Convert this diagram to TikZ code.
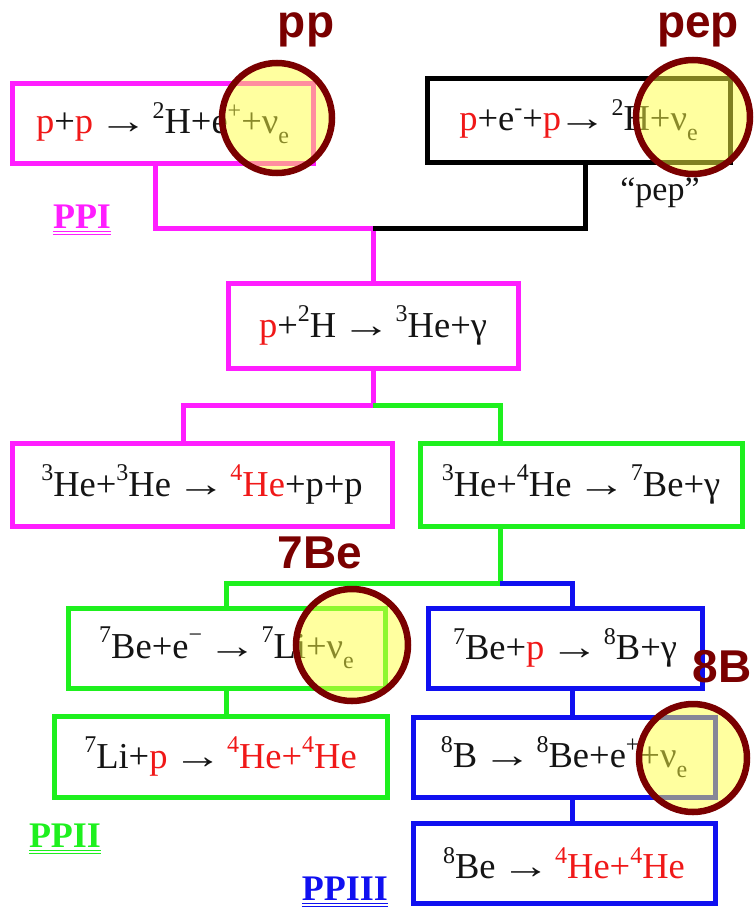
\documentclass[tikz,border=0pt]{standalone}
\usepackage{graphicx}
\usepackage{fontspec}
\setmainfont{Liberation Serif}
\newfontfamily\markfont{Liberation Sans}

\definecolor{chainpp}{HTML}{FF1EFF}
\definecolor{chainbe}{HTML}{1EF01E}
\definecolor{chainb}{HTML}{1010F0}
\definecolor{protonred}{HTML}{F01818}
\definecolor{inkblack}{HTML}{141414}
\definecolor{markred}{HTML}{7A0000}
\definecolor{markfill}{HTML}{FFFF40}

% mass numbers, neutrino flavour index, highlighted particles, reaction arrow
\newcommand\iso[1]{\raisebox{0.42em}{\fontsize{24}{24}\selectfont #1}}
\newcommand\nusub[1]{\raisebox{-0.28em}{\fontsize{24}{24}\selectfont #1}}
\newcommand\rd[1]{\textcolor{protonred}{#1}}
\newcommand\yields{\hspace{-0.1em}\scalebox{1.35}[1]{→}\hspace{-0.12em}}

\begin{document}
\begin{tikzpicture}[x=1pt,y=-1pt,
  box/.style={draw, line width=5pt, inner sep=0pt, outer sep=0pt,
              text=inkblack, font=\fontsize{36.5}{40}\selectfont},
  wire/.style={line width=5pt},
  hl/.style={circle, draw=markred, line width=6.5pt, fill=markfill,
             fill opacity=0.5, inner sep=0pt, minimum size=#1},
  tag/.style={font=\markfont\bfseries\fontsize{46}{46}\selectfont,
              text=markred, anchor=base, inner sep=0pt},
  chain/.style={font=\bfseries\fontsize{36}{36}\selectfont,
                anchor=base, inner sep=0pt},
  ul/.style={line width=1.3pt}
]
\useasboundingbox (0,0) rectangle (753,908);

% reaction boxes
\node[box, draw=chainpp, minimum width=301pt, minimum height=80pt] (b1) at (162.5,123)
  {\rd{p}+\rd{p} \yields{} \iso{2}H+e\iso{+}+ν\nusub{e}};
\node[box, draw=black, minimum width=303pt, minimum height=84pt] (b2) at (578.5,120)
  {\rd{p}+e\iso{-}+\rd{p}\yields{} \iso{2}H+ν\nusub{e}};
\node[box, draw=chainpp, minimum width=290pt, minimum height=85pt] (b3) at (373,325.5)
  {\rd{p}+\iso{2}H \yields{} \iso{3}He+γ};
\node[box, draw=chainpp, minimum width=380pt, minimum height=83pt] (b4) at (202,484.5)
  {\iso{3}He+\iso{3}He \yields{} \rd{\iso{4}He}+p+p};
\node[box, draw=chainbe, minimum width=322pt, minimum height=83pt] (b5) at (581,484.5)
  {\iso{3}He+\iso{4}He \yields{} \iso{7}Be+γ};
\node[box, draw=chainbe, minimum width=317pt, minimum height=80pt] (b6) at (226.5,648)
  {\iso{7}Be+e\iso{−} \yields{} \iso{7}Li+ν\nusub{e}};
\node[box, draw=chainb, minimum width=274pt, minimum height=80pt] (b7) at (565,648)
  {\iso{7}Be+\rd{p} \yields{} \iso{8}B+γ};
\node[box, draw=chainbe, minimum width=333pt, minimum height=81pt] (b8) at (220.5,756.5)
  {\iso{7}Li+\rd{p} \yields{} \rd{\iso{4}He+\iso{4}He}};
\node[box, draw=chainb, minimum width=302pt, minimum height=80pt] (b9) at (564,757)
  {\iso{8}B \yields{} \iso{8}Be+e\iso{+}+ν\nusub{e}};
\node[box, draw=chainb, minimum width=302pt, minimum height=80pt] (b10) at (564,863)
  {\iso{8}Be \yields{} \rd{\iso{4}He+\iso{4}He}};

% branch connectors
\coordinate (j1) at (373,228);
\coordinate (j2) at (373,405);
\coordinate (j3) at (500,583);
\draw[wire, chainpp] ([xshift=-7.5pt]b1.south) |- (j1) -- (b3.north);
\draw[wire, black] ([xshift=6.5pt]b2.south) |- (j1);
\draw[wire, chainpp] (b3.south) -- (j2) -| ([xshift=-19pt]b4.north);
\draw[wire, chainbe] (j2) -| ([xshift=-81pt]b5.north);
\draw[wire, chainbe] ([xshift=-81pt]b5.south) -- (j3) -| (b6.north);
\draw[wire, chainb] (j3) -| ([xshift=7pt]b7.north);
\draw[wire, chainbe] (b6.south) -- (b6.south |- b8.north);
\draw[wire, chainb] ([xshift=7pt]b7.south) -- ([xshift=7pt]b7.south |- b9.north);
\draw[wire, chainb] ([xshift=7pt]b7.south |- b9.south) -- ([xshift=7pt]b7.south |- b10.north);

% chain names
\node[chain, text=chainpp] (ppi) at (82,228) {PPI};
\node[chain, text=chainbe] (ppii) at (65,847) {PPII};
\node[chain, text=chainb] (ppiii) at (345,900) {PPIII};
\foreach \n/\c in {ppi/chainpp, ppii/chainbe, ppiii/chainb}{
  \draw[ul, \c] ([yshift=-3.5pt]\n.base west) -- ([yshift=-3.5pt]\n.base east);
  \draw[ul, \c] ([yshift=-6.5pt]\n.base west) -- ([yshift=-6.5pt]\n.base east);
}
\node[font=\fontsize{34}{34}\selectfont, text=inkblack, anchor=base, inner sep=0pt]
  (pepq) at (660,200) {“pep”};

% neutrino-source highlights
\node[hl=110pt] (ppmark) at (277,118) {};
\node[hl=114pt] (pepmark) at (693,117) {};
\node[hl=112pt] (bemark) at (352,645) {};
\node[hl=108pt] (bmark) at (693,758) {};
\node[tag] (pptag) at (306,37) {pp};
\node[tag] (peptag) at (698,37) {pep};
\node[tag] (betag) at (320,568) {7Be};
\node[tag] (btag) at (722,682) {8B};
\end{tikzpicture}
\end{document}
